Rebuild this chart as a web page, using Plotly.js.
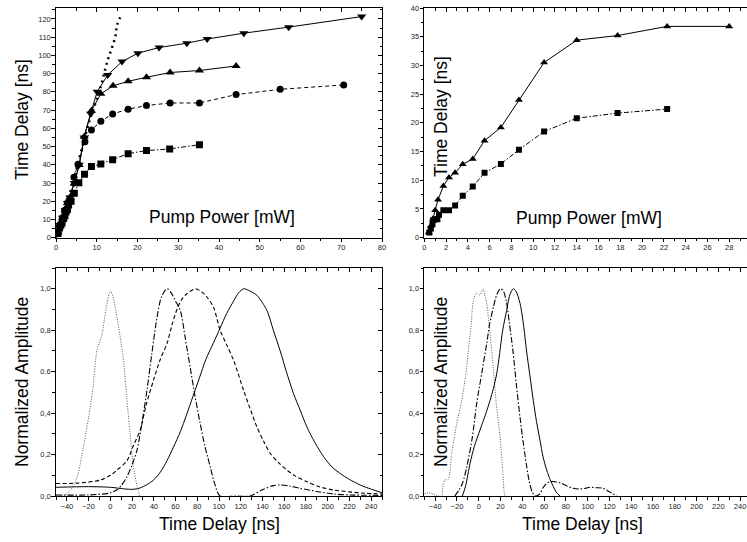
<!DOCTYPE html>
<html><head><meta charset="utf-8">
<script src="https://cdn.plot.ly/plotly-3.0.1.min.js"></script>
<style>html,body{margin:0;padding:0;overflow:hidden;background:#fff}#c{width:760px;height:542px}</style>
</head><body><div id="c"></div>
<script>
// ---- Top-left: time delay vs pump power ----
const tlSqX = [0.5,0.9,1.2,1.5,1.9,2.2,2.5,2.8,3.1,3.7,4.5,5.6,7.0,8.7,11.0,13.9,17.7,22.2,27.9,35.2];
const tlSqY = [2.3,5.4,7,8.2,10.6,12,14.3,15.5,18,20,24.4,30.2,34.8,39,40.4,42.8,46.1,47.8,48.7,51];
const tlCiX = [0.5,1.0,1.6,2.2,2.8,3.4,4.4,5.4,7.1,8.7,11.0,13.9,17.7,22.2,28.0,35.2,44.2,55.0,70.6];
const tlCiY = [3,7,11,15,19,21,33.1,40.3,52.7,59.1,63.9,67.9,70.5,72.5,73.9,73.9,78.5,81.4,83.8];
const tlUpX = [0.5,1.0,1.6,2.2,2.8,3.4,4.5,5.7,6.9,8.7,11.0,14.0,17.7,22.2,28.0,35.2,44.2];
const tlUpY = [3,7,11,15,19,22,29.8,39.9,55.4,69.7,78.9,83.3,85.8,88,90.6,91.7,94.2];
const tlDnX = [0.5,1.0,1.6,2.2,2.8,3.4,4.5,5.7,6.9,8.5,10.1,12.7,16.2,20.1,25.3,32.1,37.1,46.1,57.1,75.0];
const tlDnY = [3,7,11,15,19,22,30,40,55,68,80.1,89.3,96.6,101.2,104.3,106.7,109,112.2,115.5,121.3];
const tlThX = [0,2,4,6,8.4,10.6,12.7,13.7,14.6,15,16.2];
const tlThY = [0,14,29,46,65.5,80,97.5,104,110.7,116.7,123];
// ---- Top-right ----
const trUpX = [0.4,0.6,0.8,1.0,1.26,1.75,2.27,2.83,3.53,4.45,5.53,7.03,8.69,11.0,14.0,17.75,22.3,28.0];
const trUpY = [0.9,2.0,3.3,4.8,6.6,9.0,10.5,11.3,12.8,13.7,16.9,19.2,24.0,30.5,34.4,35.2,36.8,36.8];
const trSqX = [0.46,0.6,0.75,0.83,1.0,1.2,1.35,1.75,2.27,2.83,3.53,4.45,5.53,7.03,8.69,11.0,14.0,17.75,22.3];
const trSqY = [0.9,1.6,2.4,3.1,3.2,3.2,4.0,4.8,4.8,5.6,7.3,8.9,11.3,12.85,15.3,18.5,20.8,21.7,22.4];
// ---- Bottom-left: normalized pulses ----
const blDotT = [-50,-42,-38,-34,-30,-27.6,-24,-20,-16,-12.4,-7.7,-4,0,3,6.1,9,12.2,15,18.4,21,24.5,27];
const blDotA = [0,0.005,0.02,0.05,0.10,0.157,0.26,0.38,0.52,0.70,0.78,0.90,0.99,0.95,0.86,0.77,0.65,0.48,0.29,0.15,0.05,0];
const blDdT = [-50,-20,0,6.1,10,15.3,20,24.5,29,33.7,38,42.9,47,52.1,56,60,64.4,69,73.5,78,82.7,87,92,96,101,115,128.7,140,150,156.3,165,174.7,190,205,220,250];
const blDdA = [0.005,0.005,0.015,0.03,0.05,0.093,0.15,0.22,0.35,0.51,0.68,0.86,0.96,1.0,0.98,0.94,0.895,0.76,0.62,0.48,0.35,0.24,0.14,0.06,0.0,0,0,0.03,0.05,0.053,0.048,0.037,0.022,0.01,0.005,0.003];
const blDaT = [-50,-30,-9.2,0,6.1,15.3,21,27.6,33,39.8,46,52.1,57,61.3,66,70.5,78.2,84,88.9,95,101,107,113.4,122.6,128.7,134.9,141,147.2,155,162.5,170,180.9,192,205.4,220,235,250];
const blDaA = [0.06,0.062,0.077,0.1,0.125,0.17,0.24,0.32,0.44,0.56,0.66,0.735,0.83,0.90,0.95,0.976,1.0,0.985,0.96,0.91,0.80,0.73,0.655,0.51,0.42,0.333,0.265,0.205,0.16,0.125,0.097,0.069,0.045,0.029,0.02,0.013,0.01];
const blSoT = [-50,-20,0,10,18.4,25,32,39.8,46,52.1,58,64.4,70,76,82,88,95,101,107,113.4,118,122.6,128,134.9,144.1,150,156.3,162,168.6,175,180.9,188,196.2,204,211.5,220,230,240,250];
const blSoA = [0.042,0.045,0.042,0.036,0.032,0.035,0.05,0.077,0.115,0.17,0.235,0.31,0.39,0.48,0.57,0.66,0.74,0.81,0.88,0.94,0.98,1.0,0.99,0.968,0.895,0.80,0.70,0.60,0.494,0.41,0.333,0.26,0.19,0.14,0.109,0.08,0.053,0.033,0.016];
// ---- Bottom-right ----
const brDotT = [-50,-46,-42,-38,-34,-33,-31,-28,-25,-20.2,-15.7,-12,-9.6,-7,-5,-2,1,4,5.5,7.3,10,13.4,16,19.5,22,24.1,25];
const brDotA = [0.01,0.015,0.01,0,0,0.05,0.077,0.08,0.2,0.35,0.46,0.58,0.70,0.82,0.94,0.98,0.97,1.0,0.97,0.93,0.8,0.62,0.45,0.29,0.12,0,0];
const brDdT = [-22,-18,-15,-11,-6,-1.9,3,7.3,10,13.4,16.5,19.8,22.5,25.3,28,31.4,34.5,37.9,40.8,43.6,46,49,52,56,59,62.4,65,68.5,72,76.1,81,86.8,92,97,102,108,114.4,120,126.7];
const brDdA = [0,0.03,0.06,0.14,0.28,0.446,0.60,0.735,0.83,0.91,0.97,1.0,0.99,0.94,0.84,0.70,0.54,0.38,0.26,0.157,0.08,0.02,0,0.01,0.04,0.061,0.068,0.07,0.067,0.061,0.048,0.037,0.034,0.036,0.042,0.04,0.037,0.02,0];
const brSoT = [-15,-12,-8,-4,1.1,6,10.3,13.5,16.5,19,22,25.6,28.5,31.7,34.5,37.9,41,43.9,47,50.1,53,56.2,59,62.4,65.5,68.5,71,74.6];
const brSoA = [0,0.05,0.157,0.24,0.318,0.39,0.46,0.52,0.59,0.68,0.80,0.895,0.97,1.0,0.985,0.93,0.83,0.70,0.58,0.46,0.36,0.27,0.19,0.125,0.08,0.045,0.02,0];

const axisTitle = 'Time Delay [ns]';
const pumpTitle = 'Pump Power [mW]';
const ampTitle = 'Normalized Amplitude';

const W = 760, H = 542, ML = 56, MR = 9, MT = 8, MB = 46;
const PW = W - ML - MR, PH = H - MT - MB;
const px2x = p => (p - ML) / PW;
const py2y = p => (H - MB - p) / PH;

const FONT = 'Liberation Sans, Arial, sans-serif';
const K = '#000';

function sc(x, y, xa, ya, sym, size, dash, w) {
  return {x: x, y: y, xaxis: xa, yaxis: ya, type: 'scatter', mode: 'lines+markers',
    marker: {symbol: sym, size: size, color: K}, line: {color: K, width: w || 1, dash: dash},
    hoverinfo: 'skip', showlegend: false, cliponaxis: true};
}
function ln(x, y, xa, ya, dash, color, w) {
  return {x: x, y: y, xaxis: xa, yaxis: ya, type: 'scatter', mode: 'lines',
    line: {color: color, width: w || 1, dash: dash, shape: 'spline', smoothing: 0.8},
    hoverinfo: 'skip', showlegend: false};
}
const dummy = (xa, ya) => ({x: [null], y: [null], xaxis: xa, yaxis: ya, type: 'scatter', mode: 'markers', hoverinfo: 'skip', showlegend: false});

const data = [
  {x: tlThX, y: tlThY, xaxis: 'x', yaxis: 'y', type: 'scatter', mode: 'lines', line: {color: K, width: 2.5, dash: '2px,4px', shape: 'spline'}, hoverinfo: 'skip', showlegend: false},
  sc(tlSqX, tlSqY, 'x', 'y', 'square', 7, '5px,2px,1.5px,2px'),
  sc(tlCiX, tlCiY, 'x', 'y', 'circle', 7, '4px,3px'),
  sc(tlUpX, tlUpY, 'x', 'y', 'triangle-up', 8, 'solid'),
  sc(tlDnX, tlDnY, 'x', 'y', 'triangle-down', 8, 'solid'),
  sc(trSqX, trSqY, 'x2', 'y2', 'square', 6, '5px,2px,1.5px,2px'),
  sc(trUpX, trUpY, 'x2', 'y2', 'triangle-up', 7, 'solid'),
  ln(blDotT, blDotA, 'x3', 'y3', '1px,1.5px', '#555'),
  ln(blDdT, blDdA, 'x3', 'y3', '6px,2px,1.5px,2px', K, 1.1),
  ln(blDaT, blDaA, 'x3', 'y3', '4px,2.5px', K, 1.1),
  ln(blSoT, blSoA, 'x3', 'y3', 'solid', K, 1),
  ln(brDotT, brDotA, 'x4', 'y4', '1px,1.5px', '#555'),
  ln(brDdT, brDdA, 'x4', 'y4', '6px,2px,1.5px,2px', K, 1.1),
  ln(brSoT, brSoA, 'x4', 'y4', 'solid', K, 1),
  dummy('x5', 'y5'), dummy('x6', 'y6'), dummy('x7', 'y7'), dummy('x8', 'y8')
];

const tf = {family: FONT, size: 7.5, color: '#222'};
function mainAx(anchor, domain, range, dtick, minor, extra) {
  return Object.assign({anchor: anchor, domain: domain, range: range, dtick: dtick, tick0: 0,
    showline: true, linecolor: K, linewidth: 1.2, mirror: true, ticks: 'outside', ticklen: 3.5,
    ticklabelstandoff: -1,
    tickwidth: 1, tickcolor: K, tickfont: tf, showgrid: false, zeroline: false, fixedrange: true,
    minor: {dtick: minor, ticks: 'outside', ticklen: 2.5, tickcolor: K, tickwidth: 1, showgrid: false}}, extra || {});
}
function ovAx(over, anchor, side, range, dtick, minor) {
  return {overlaying: over, anchor: anchor, side: side, range: range, dtick: dtick, tick0: 0,
    showline: false, ticks: 'inside', ticklen: 4, tickwidth: 1, tickcolor: K, showticklabels: false,
    showgrid: false, zeroline: false, fixedrange: true,
    minor: {dtick: minor, ticks: 'inside', ticklen: 2.5, tickcolor: K, tickwidth: 1, showgrid: false}};
}

const xL = [0, px2x(382)], xR = [px2x(424.3), 1];
const yT = [py2y(237.7), 1], yB = [0, py2y(268)];
const rTLx = [0, 80], rTLy = [0, 126], rTRx = [0, 30], rTRy = [0, 40], rBx = [-50, 250], rBy = [0, 1.1];
const bxTicks = [-40,-20,0,20,40,60,80,100,120,140,160,180,200,220,240];
const byTicks = [0,0.2,0.4,0.6,0.8,1.0];

const layout = {
  width: W, height: H, margin: {l: ML, r: MR, t: MT, b: MB, pad: 0},
  paper_bgcolor: '#fff', plot_bgcolor: 'rgba(0,0,0,0)', separators: ', ',
  font: {family: FONT, color: K},
  xaxis: mainAx('y', xL, rTLx, 10, 5),
  yaxis: mainAx('x', yT, rTLy, 10, 5),
  xaxis2: mainAx('y2', xR, rTRx, 2, 1),
  yaxis2: mainAx('x2', yT, rTRy, 5, 2.5),
  xaxis3: mainAx('y3', xL, rBx, 20, 10, {tickvals: bxTicks}),
  yaxis3: mainAx('x3', yB, rBy, 0.2, 0.1, {tickformat: '.1f', tickvals: byTicks}),
  xaxis4: mainAx('y4', xR, rBx, 20, 10, {tickvals: bxTicks}),
  yaxis4: mainAx('x4', yB, rBy, 0.2, 0.1, {tickformat: '.1f', tickvals: byTicks}),
  xaxis5: ovAx('x', 'y5', 'top', rTLx, 10, 5),
  yaxis5: ovAx('y', 'x5', 'right', rTLy, 10, 5),
  xaxis6: ovAx('x2', 'y6', 'top', rTRx, 2, 1),
  yaxis6: ovAx('y2', 'x6', 'right', rTRy, 5, 2.5),
  xaxis7: ovAx('x3', 'y7', 'top', rBx, 20, 10),
  yaxis7: ovAx('y3', 'x7', 'right', rBy, 0.2, 0.1),
  xaxis8: ovAx('x4', 'y8', 'top', rBx, 20, 10),
  yaxis8: ovAx('y4', 'x8', 'right', rBy, 0.2, 0.1),
  annotations: []
};
function ann(text, px, py, rot) {
  layout.annotations.push({text: text, xref: 'paper', yref: 'paper', x: px2x(px), y: py2y(py),
    xanchor: 'center', yanchor: 'middle', showarrow: false, textangle: rot || 0,
    font: {family: FONT, size: 17.5, color: K}});
}
ann(axisTitle, 22, 120, -90);
ann(pumpTitle, 222, 217);
ann(axisTitle, 441, 117, -90);
ann(pumpTitle, 589, 218);
ann(ampTitle, 22, 382, -90);
ann(axisTitle, 219, 524);
ann(ampTitle, 441, 382, -90);
ann(axisTitle, 582, 524);

Plotly.newPlot('c', data, layout, {staticPlot: true, displayModeBar: false});
</script></body></html>
